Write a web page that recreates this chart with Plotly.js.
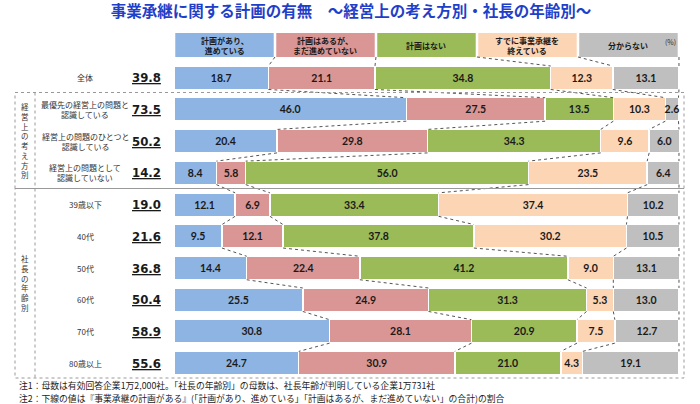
<!DOCTYPE html>
<html>
<head>
<meta charset="utf-8">
<script src="https://cdn.plot.ly/plotly-3.0.1.min.js"></script>
<style>html,body{margin:0;padding:0;background:#fff;}#chart{width:700px;height:404px;}</style>
</head>
<body>
<div id="chart"></div>
<script>
// ---- data ----
const rowLabels = ['全体','最優先の経営上の問題と<br>認識している','経営上の問題のひとつと<br>認識している','経営上の問題として<br>認識していない','39歳以下','40代','50代','60代','70代','80歳以上'];
const planTotals = [39.8, 73.5, 50.2, 14.2, 19.0, 21.6, 36.8, 50.4, 58.9, 55.6];
const seriesNames = ['計画があり、<br>進めている','計画はあるが、<br>まだ進めていない','計画はない','すでに事業承継を<br>終えている','分からない'];
const progressing    = [18.7, 46.0, 20.4,  8.4, 12.1,  9.5, 14.4, 25.5, 30.8, 24.7];
const notProgressing = [21.1, 27.5, 29.8,  5.8,  6.9, 12.1, 22.4, 24.9, 28.1, 30.9];
const noPlan         = [34.8, 13.5, 34.3, 56.0, 33.4, 37.8, 41.2, 31.3, 20.9, 21.0];
const handedOver     = [12.3, 10.3,  9.6, 23.5, 37.4, 30.2,  9.0,  5.3,  7.5,  4.3];
const unknown        = [13.1,  2.6,  6.0,  6.4, 10.2, 10.5, 13.1, 13.0, 12.7, 19.1];
const groupLabels = ['経営上の考え方別','社長の年齢別'];
const titleText = '事業承継に関する計画の有無　～経営上の考え方別・社長の年齢別～';
const note1 = '注1：母数は有効回答企業1万2,000社。「社長の年齢別」の母数は、社長年齢が判明している企業1万731社';
const note2 = '注2：下線の値は『事業承継の計画がある』(「計画があり、進めている」「計画はあるが、まだ進めていない」の合計)の割合';

// ---- style ----
const colors = ['#8EB4E3','#DA9694','#9BBB59','#FCD5B5','#BFBFBF'];
const JP = '"Noto Sans CJK JP", "Noto Sans", sans-serif';
const NUM = 'Lato, "Liberation Sans", Arial, sans-serif';
const L = 174, R = 682, T = 27, B = 379;
const xMax = 100.6, yTop = -1.6, yBot = 9.5;
const px = x => (x - L) / (R - L);
const py = y => (B - y) / (B - T);
const dy = y => yTop + (y - T) / (B - T) * (yBot - yTop); // pixel -> y data
const barW = 0.74;

const series = [progressing, notProgressing, noPlan, handedOver, unknown];
const yIdx = rowLabels.map((_, i) => i);

const traces = series.map((vals, s) => ({
  type: 'bar', orientation: 'h', x: vals, y: yIdx, width: barW,
  name: seriesNames[s].replace('<br>', ''),
  marker: {color: colors[s], line: {color: '#ffffff', width: 1.5}},
  text: vals.map(v => v.toFixed(1)), textposition: 'inside', insidetextanchor: 'middle',
  textangle: 0, constraintext: 'none',
  textfont: {family: NUM, size: 10.5, color: '#1a1a1a', weight: 'bold'},
  hoverinfo: 'x+name'
}));

const shapes = [];
const annotations = [];

// cumulative boundaries
const cum = yIdx.map(i => {
  let c = 0; const out = [0];
  series.forEach(s => { c += s[i]; out.push(c); });
  return out;
});

// header boxes
const hTop = dy(33), hBot = dy(57);
seriesNames.forEach((n, s) => {
  shapes.push({type: 'rect', xref: 'x', yref: 'y', x0: s * 20 + 0.25, x1: (s + 1) * 20 - 0.25, y0: hTop, y1: hBot,
    fillcolor: colors[s], line: {width: 0}, layer: 'below'});
  annotations.push({xref: 'x', yref: 'y', x: s * 20 + 10, y: (hTop + hBot) / 2, text: '<b>' + n + '</b>', showarrow: false,
    font: {family: JP, size: 8, color: '#1a1a1a'}, align: 'center'});
});

// connector dotted lines
const conn = {color: '#555555', width: 1, dash: 'dot'};
for (let k = 1; k <= 5; k++) {
  shapes.push({type: 'line', xref: 'x', yref: 'y', x0: Math.min(k * 20, 100), y0: hBot, x1: Math.min(cum[0][k], 100), y1: -barW / 2, line: conn});
}
for (let i = 0; i < yIdx.length - 1; i++) {
  for (let k = 1; k <= 5; k++) {
    shapes.push({type: 'line', xref: 'x', yref: 'y', x0: Math.min(cum[i][k], 100), y0: i + barW / 2,
      x1: Math.min(cum[i + 1][k], 100), y1: i + 1 - barW / 2, line: conn});
  }
}

// group borders
const gLine = {color: '#999999', width: 1, dash: 'dot'};
const g1Top = 92.5, g2Top = 188.5, g2Bot = 378, gL = 15, gDiv = 35, gR = 684;
[[g1Top, g2Top], [g2Top, g2Bot]].forEach(([a, b]) => {
  shapes.push({type: 'rect', xref: 'paper', yref: 'paper', x0: px(gL), x1: px(gR), y0: py(a), y1: py(b), line: gLine});
});
shapes.push({type: 'line', xref: 'paper', yref: 'paper', x0: px(gDiv), x1: px(gDiv), y0: py(g1Top), y1: py(g2Bot), line: gLine});

// group labels (vertical stacked characters, one text block each)
[[groupLabels[0], (g1Top + g2Top) / 2], [groupLabels[1], (g2Top + g2Bot) / 2]].forEach(([txt, cy]) => {
  annotations.push({xref: 'paper', yref: 'paper', x: px(25), y: py(cy),
    text: Array.from(txt).join('<br>'), showarrow: false, align: 'center',
    font: {family: JP, size: 7.5, color: '#333333'}, xanchor: 'center', yanchor: 'middle'});
});

// row labels and underlined totals
rowLabels.forEach((lab, i) => {
  annotations.push({xref: 'paper', yref: 'y', x: px(85), y: i, text: lab, showarrow: false, align: 'center',
    font: {family: JP, size: 8, color: '#333333'}, xanchor: 'center', yanchor: 'middle'});
  annotations.push({xref: 'paper', yref: 'y', x: px(163), y: i, text: '<b><u>' + planTotals[i].toFixed(1) + '</u></b>', showarrow: false,
    font: {family: '"Liberation Sans Narrow", "DejaVu Sans Condensed", "Liberation Sans", sans-serif', size: 13, color: '#1a1a1a'},
    xanchor: 'right', yanchor: 'middle'});
});

// (%) and notes
annotations.push({xref: 'paper', yref: 'paper', x: px(678), y: py(42), text: '(%)', showarrow: false, xanchor: 'right', yanchor: 'middle',
  font: {family: JP, size: 7, color: '#333333'}});
annotations.push({xref: 'paper', yref: 'paper', x: px(17), y: py(385), text: note1, showarrow: false, xanchor: 'left', yanchor: 'middle',
  font: {family: JP, size: 8.8, color: '#222222'}});
annotations.push({xref: 'paper', yref: 'paper', x: px(17), y: py(398), text: note2, showarrow: false, xanchor: 'left', yanchor: 'middle',
  font: {family: JP, size: 8.8, color: '#222222'}});

const layout = {
  width: 700, height: 404,
  margin: {l: L, r: 700 - R, t: T, b: 404 - B, pad: 0},
  paper_bgcolor: '#ffffff', plot_bgcolor: '#ffffff',
  barmode: 'stack', bargap: 0, showlegend: false,
  title: {text: '<b>' + titleText + '</b>', x: 351 / 700, xanchor: 'center', xref: 'container', y: 1 - 12 / 404, yanchor: 'middle', yref: 'container',
    font: {family: JP, size: 15.5, color: '#1F3FC9'}},
  xaxis: {range: [0, xMax], visible: false, fixedrange: true},
  yaxis: {range: [yBot, yTop], visible: false, fixedrange: true},
  shapes: shapes, annotations: annotations
};

Plotly.newPlot('chart', traces, layout, {displayModeBar: false, staticPlot: true});
</script>
</body>
</html>
